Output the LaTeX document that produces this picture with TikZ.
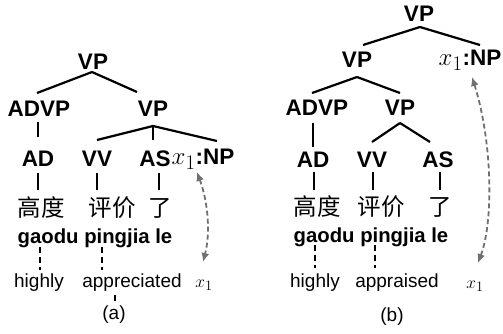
\documentclass[tikz,border=0pt]{standalone}
\usepackage{fontspec}
\setmainfont{Liberation Sans}
\newfontfamily\cjk{Noto Sans CJK SC}
\usetikzlibrary{arrows.meta,calc}
\definecolor{arrgray}{HTML}{707070}
\newcommand{\xone}{{\fontsize{24.88}{27}\selectfont$x_1$}}
\begin{document}
\begin{tikzpicture}[x=1pt,y=-1pt,
  lab/.style={font=\fontsize{22.5}{25}\selectfont\bfseries, inner sep=0pt},
  cn/.style={font=\cjk\fontsize{23.5}{26}\selectfont, inner sep=0pt},
  py/.style={font=\fontsize{20.3}{22}\selectfont\bfseries, inner sep=0pt},
  en/.style={font=\fontsize{19}{21}\selectfont, inner sep=0pt},
  xv/.style={font=\fontsize{19}{21}\selectfont, inner sep=0pt},
  edge/.style={line width=2.2pt},
  stem/.style={line width=2.8pt},
  gloss/.style={line width=1.2pt, dash pattern=on 6pt off 4pt},
  link/.style={line width=1.8pt, arrgray, dash pattern=on 5pt off 3pt,
    {Latex[length=9pt,width=8pt]}-{Latex[length=9pt,width=8pt]}}
]
\useasboundingbox (0,0) rectangle (503,333);

% ---------- panel (a) ----------
\node[lab] (VPa) at (93,62) {VP};
\node[lab] (ADVPa) at (39,109) {ADVP};
\node[lab] (VPa2) at (153,109) {VP};
\node[lab] (ADa) at (38,159) {AD};
\node[lab] (VVa) at (97,159) {VV};
\node[lab] (ASa) at (155,159) {AS};
\node[lab] (NPa) at (203,159) {\xone:NP};

\node[cn] (cnA1) at (41,208) {高度};
\node[cn] (cnA2) at (112,208) {评价};
\node[cn] (cnA3) at (160,208) {了};

\node[py] (pyA) at (95,238) {gaodu pingjia le};

\node[en] (enA1) at (39,283) {highly};
\node[en] (enA2) at (132,283) {appreciated};
\node[xv] (xA) at (204,285) {$x_1$};
\node[en] (capA) at (114,315) {(a)};

\draw[edge] ($(VPa)+(-1,10)$) -- ($(ADVPa)+(-2,-16)$);
\draw[edge] ($(VPa)+(-1,10)$) -- ($(VPa2)+(-16,-17)$);
\draw[edge] ($(VPa2)+(0,17)$) -- ($(VVa)+(0,-19)$);
\draw[edge] ($(VPa2)+(0,17)$) -- ($(ASa)+(-2,-19)$);
\draw[edge] ($(VPa2)+(0,17)$) -- ($(NPa)+(14,-18)$);
\draw[edge] ($(ADVPa)+(-1,13)$) -- ($(ADa)+(0,-22)$);
\draw[stem] ($(ADa)+(0,14)$) -- ($(cnA1)+(-3,-18)$);
\draw[stem] ($(VVa)+(0,14)$) -- ($(cnA2)+(-15,-18)$);
\draw[stem] ($(ASa)+(4,14)$) -- ($(cnA3)+(-1,-18)$);
\draw[gloss] ($(pyA)+(-55,9)$) -- ($(enA1)+(1,-13)$);
\draw[gloss] ($(pyA)+(7,9)$) -- ($(enA2)+(-30,-13)$);
\draw[gloss] ($(enA2)+(-17,12)$) -- ($(capA)+(1,-13)$);
\draw[link] ($(NPa)+(-6,13)$) .. controls (209,205) and (210,235) .. ($(xA)+(-1,-23)$);

% ---------- panel (b) ----------
\node[lab] (VPb) at (419,14) {VP};
\node[lab] (VPb2) at (357,60) {VP};
\node[lab] (NPb) at (470,60) {\xone:NP};
\node[lab] (ADVPb) at (317,108) {ADVP};
\node[lab] (VPb3) at (400,108) {VP};
\node[lab] (ADb) at (313,160) {AD};
\node[lab] (VVb) at (372,160) {VV};
\node[lab] (ASb) at (438,160) {AS};

\node[cn] (cnB1) at (317,207) {高度};
\node[cn] (cnB2) at (381,207) {评价};
\node[cn] (cnB3) at (440,207) {了};

\node[py] (pyB) at (371,237) {gaodu pingjia le};

\node[en] (enB1) at (315,283) {highly};
\node[en] (enB2) at (397,283) {appraised};
\node[xv] (xB) at (475,286) {$x_1$};
\node[en] (capB) at (392,317) {(b)};

\draw[edge] ($(VPb)+(1,13)$) -- ($(VPb2)+(6,-15)$);
\draw[edge] ($(VPb)+(1,13)$) -- ($(NPb)+(10,-15)$);
\draw[edge] ($(VPb2)+(0,17)$) -- ($(ADVPb)+(-5,-15)$);
\draw[edge] ($(VPb2)+(0,17)$) -- ($(VPb3)+(0,-15)$);
\draw[edge] ($(ADVPb)+(-4,15)$) -- ($(ADb)+(0,-13)$);
\draw[edge] ($(VPb3)+(0,15)$) -- ($(VVb)+(0,-18)$);
\draw[edge] ($(VPb3)+(0,15)$) -- ($(ASb)+(-8,-18)$);
\draw[stem] ($(ADb)+(1,12)$) -- ($(cnB1)+(-3,-17)$);
\draw[stem] ($(VVb)+(1,12)$) -- ($(cnB2)+(-8,-17)$);
\draw[stem] ($(ASb)+(2,12)$) -- ($(cnB3)+(0,-17)$);
\draw[gloss] ($(pyB)+(-56,8)$) -- ($(enB1)+(0,-15)$);
\draw[gloss] ($(pyB)+(4,8)$) -- ($(enB2)+(-22,-15)$);
\draw[link] ($(NPb)+(2,17)$) .. controls (492,140) and (494,220) .. ($(xB)+(3,-23)$);
\end{tikzpicture}
\end{document}
